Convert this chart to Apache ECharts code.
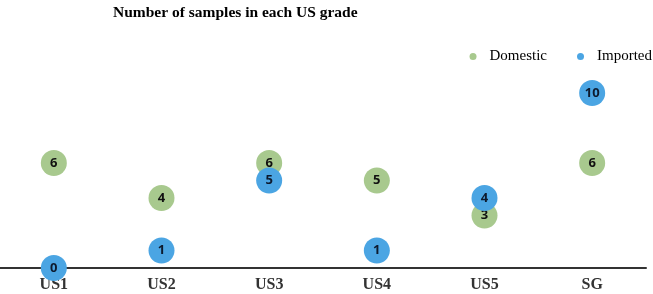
<!DOCTYPE html>
<html><head><meta charset="utf-8">
<script src="https://cdn.jsdelivr.net/npm/echarts@6/dist/echarts.min.js"></script>
<style>html,body{margin:0;padding:0;background:#fff}#c{width:653px;height:294px}</style>
</head><body><div id="c"></div>
<script>
const categories = ['US1', 'US2', 'US3', 'US4', 'US5', 'SG'];
const domestic = [6, 4, 6, 5, 3, 6];
const imported = [0, 1, 5, 1, 4, 10];
const seriesNames = ['Domestic', 'Imported'];

const chart = echarts.init(document.getElementById('c'));
const labelStyle = {
  show: true, position: 'inside', color: '#111',
  fontFamily: 'Open Sans', fontWeight: 'bold', fontSize: 13,
  formatter: p => p.value
};
chart.setOption({
  animation: false,
  title: {
    text: 'Number of samples in each US grade',
    left: 108, top: 0,
    textStyle: { fontFamily: 'Liberation Serif', fontWeight: 'bold', fontSize: 15.5, color: '#000' }
  },
  legend: {
    data: seriesNames,
    right: 0, top: 44, padding: [5, 1, 5, 5],
    itemWidth: 7, itemHeight: 7, itemGap: 30,
    icon: 'circle',
    textStyle: { fontFamily: 'Liberation Serif', fontSize: 15, color: '#000', padding: [0, 0, 0, 8] }
  },
  grid: { left: 0, right: 7, top: 58, bottom: 26 },
  xAxis: {
    type: 'category', data: categories, boundaryGap: true,
    axisLine: { show: true, lineStyle: { color: '#333', width: 2 } },
    axisTick: { show: false },
    axisLabel: { fontFamily: 'Liberation Serif', fontWeight: 'bold', fontSize: 16, color: '#333', margin: 9 }
  },
  yAxis: {
    type: 'value', min: 0, max: 12,
    show: false, splitLine: { show: false }
  },
  series: [
    {
      name: seriesNames[0], type: 'scatter', data: domestic, symbolSize: 26,
      itemStyle: { color: '#a8c98e', opacity: 1 },
      label: labelStyle, z: 2
    },
    {
      name: seriesNames[1], type: 'scatter', data: imported, symbolSize: 26,
      itemStyle: { color: '#4ba5e3', opacity: 1 },
      label: Object.assign({}, labelStyle, { color: '#0d1a2e' }), z: 3
    }
  ]
});
</script></body></html>
